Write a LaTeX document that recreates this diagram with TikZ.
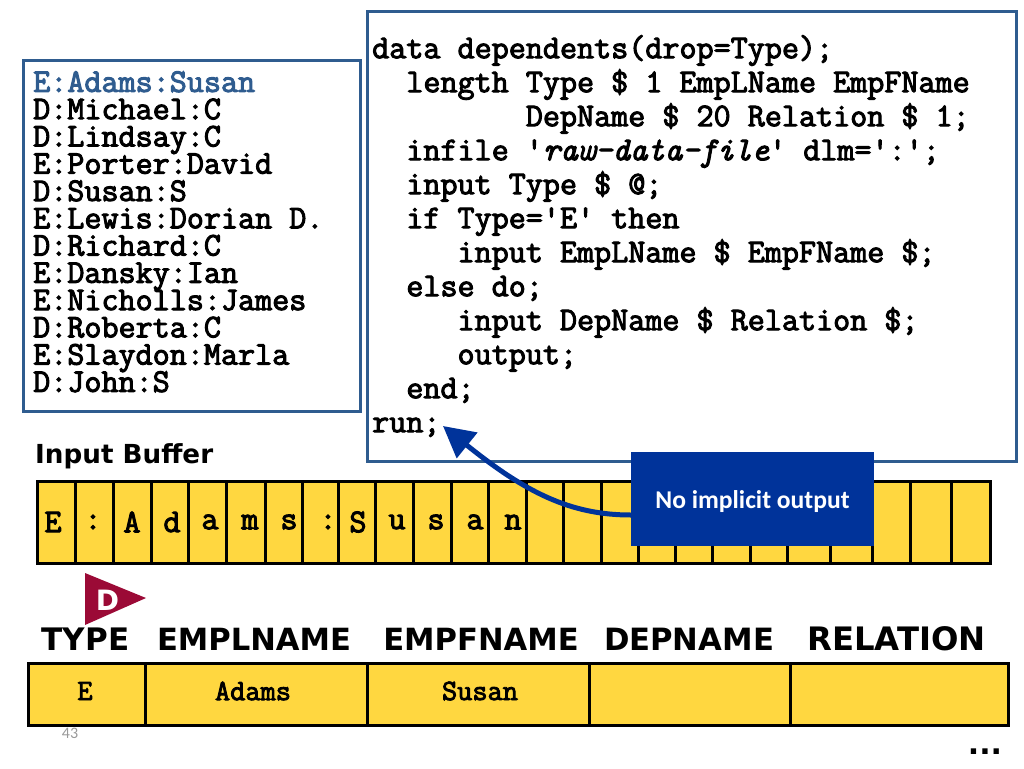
\documentclass[tikz,border=0pt]{standalone}
\usepackage{fontspec}
\usetikzlibrary{arrows.meta,positioning}
\newfontfamily\headfont{DejaVu Sans}
\newfontfamily\calloutfont{Carlito}
\newfontfamily\codefont{Latin Modern Mono}[FakeBold=3]
\definecolor{boxblue}{HTML}{2F5C8F}
\definecolor{calloutblue}{HTML}{00339A}
\definecolor{cellyellow}{HTML}{FFD740}
\definecolor{markerred}{HTML}{9B0A36}
\setlength{\lineskiplimit}{-100pt}
\tikzset{
	codebox/.style={draw=boxblue, line width=3pt, fill=white, inner sep=0pt, anchor=north west},
	codetext/.style 2 args={inner sep=0pt, anchor=north west, align=left, font=\fontsize{#1}{#2}\codefont},
	bufcell/.style={fill=cellyellow, draw=black, line width=3pt},
	bufchar/.style={inner sep=0pt, font=\fontsize{33.15}{33.15}\codefont},
	colhead/.style={inner sep=0pt, font=\fontsize{#1}{#1}\headfont\bfseries},
	colval/.style={inner sep=0pt, font=\fontsize{29.5}{29.5}\codefont}
}
\newcommand{\ind}[1]{\hspace*{#1\dimexpr 17.07pt\relax}}
\newcommand{\qs}{\textquotesingle}
\begin{document}
\begin{tikzpicture}[x=1pt, y=-1pt, line join=miter, >=stealth]
	\useasboundingbox (0,0) rectangle (1024,768);
	% the two listings
	\node[codebox, minimum width=337pt, minimum height=351pt] (rawbox) at (22,59) {};
	\node[codebox, minimum width=649pt, minimum height=450pt] (stepbox) at (366,10) {};
	\node[codetext={33.15}{27.27}] (rawtext) at (33,71) {\textcolor{boxblue}{E:Adams:Susan}\\
		D:Michael:C\\ D:Lindsay:C\\ E:Porter:David\\ D:Susan:S\\ E:Lewis:Dorian D.\\
		D:Richard:C\\ E:Dansky:Ian\\ E:Nicholls:James\\ D:Roberta:C\\ E:Slaydon:Marla\\ D:John:S};
	\node[codetext={33.15}{34}] (steptext) at (372,35) {data dependents(drop=Type);\\
		\ind{2}length Type \$ 1 EmpLName EmpFName\\
		\ind{9}DepName \$ 20 Relation \$ 1;\\
		\ind{2}infile \qs{\itshape raw-data-file}\qs{} dlm=\qs:\qs;\\
		\ind{2}input Type \$ @;\\
		\ind{2}if Type=\qs E\qs{} then\\
		\ind{5}input EmpLName \$ EmpFName \$;\\
		\ind{2}else do;\\
		\ind{5}input DepName \$ Relation \$;\\
		\ind{5}output;\\
		\ind{2}end;\\
		run;};
	% input buffer
	\node[inner sep=0pt, anchor=west, font=\fontsize{26.2}{26.2}\headfont\bfseries] (buflabel) at (35,456) {Input Buffer};
	\foreach \xa/\xb in {37/75,75/113,113/151,151/188,188/226,226/265,265/302,302/338,338/375,375/413,413/451,451/488,488/526,526/563,563/601,601/638,638/675,675/712,712/750,750/787,787/830,830/872,872/910,910/951,951/990}
		\draw[bufcell] (\xa,481.5) rectangle (\xb,563);
	\foreach \cx/\ch in {53/E,93/:,132/A,172/d,210/a,250/m,289/s,328/:,358/S,397/u,436/s,475/a,513/n}
		\node[bufchar] at (\cx,522) {\ch};
	% callout and its arrow
	\node[fill=calloutblue, minimum width=243pt, minimum height=94pt, inner sep=0pt, text=white, font=\fontsize{25.6}{25.6}\calloutfont\bfseries] (callout) at (752.5,499) {\rule{0pt}{24pt}No implicit output};
	\coordinate (runtip) at (443,426);
	\draw[-{Triangle[length=31pt,width=32pt]}, draw=calloutblue, line width=5pt] ([yshift=-16pt]callout.west) .. controls (570,515) and (525,492) .. (runtip);
	% pointer
	\coordinate (ptop) at (85,573);
	\coordinate (ptip) at (146,598);
	\coordinate (pbot) at (85,625);
	\fill[markerred] (ptop)--(ptip)--(pbot)--cycle;
	\node[inner sep=0pt, text=white, font=\fontsize{28}{28}\headfont\bfseries] (ptr) at (107.5,600) {D};
	% program data vector
	\foreach \cx/\ctext/\csize in {85.5/TYPE/31,254/EMPLNAME/30.6,481/EMPFNAME/30.6,689/DEPNAME/30.7,896.5/RELATION/32.3}
		\node[colhead=\csize] at (\cx,639) {\ctext};
	\foreach \xa/\xb in {28.5/145,145/367,367/589,589/790,790/1008.5}
		\draw[bufcell] (\xa,663.5) rectangle (\xb,725);
	\foreach \cx/\ctext in {85/E,253/Adams,480/Susan}
		\node[colval] at (\cx,691) {\ctext};
	\node[inner sep=0pt, text=gray!80, font=\fontsize{16}{16}\calloutfont] (pagenum) at (70,733) {43};
	\node[inner sep=0pt, font=\fontsize{30}{30}\headfont\bfseries] (moredots) at (985,752) {...};
\end{tikzpicture}
\end{document}
